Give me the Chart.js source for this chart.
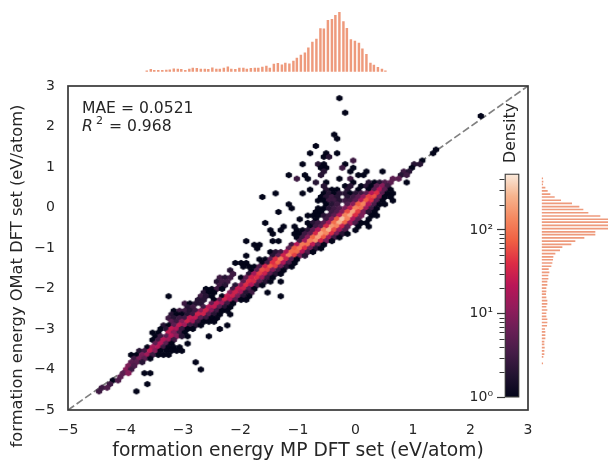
<!DOCTYPE html>
<html>
<head>
<meta charset="utf-8">
<title>formation energy parity</title>
<script src="https://cdn.jsdelivr.net/npm/chart.js@4/dist/chart.umd.min.js"></script>
<style>
  html, body { margin: 0; background: #fff; overflow: hidden; }
  canvas { position: absolute; }
</style>
</head>
<body>
<canvas id="top-hist" width="608" height="86" style="left:0;top:0"></canvas>
<canvas id="right-hist" width="80" height="462" style="left:528px;top:0"></canvas>
<canvas id="main" width="608" height="462" style="left:0;top:0"></canvas>
<canvas id="colorbar" width="90" height="270" style="left:440px;top:140px"></canvas>
<script>
// top marginal histogram
const topBins = [-3.63,-3.56,-3.50,-3.43,-3.36,-3.29,-3.23,-3.16,-3.09,-3.03,
  -2.96,-2.89,-2.83,-2.76,-2.69,-2.62,-2.56,-2.49,-2.42,-2.36,
  -2.29,-2.22,-2.16,-2.09,-2.02,-1.95,-1.89,-1.82,-1.75,-1.69,
  -1.62,-1.55,-1.49,-1.42,-1.35,-1.28,-1.22,-1.15,-1.08,-1.02,
  -0.95,-0.88,-0.82,-0.75,-0.68,-0.61,-0.55,-0.48,-0.41,-0.35,
  -0.28,-0.21,-0.15,-0.08,-0.01,0.06,0.12,0.19,0.26,0.32,
  0.39,0.46,0.52];
const topCounts = [3,7,4,4,4,5,6,9,8,7,
  4,8,11,10,8,8,7,12,8,8,
  11,15,8,7,11,11,8,10,11,11,
  14,17,11,23,25,21,26,24,32,41,
  50,57,72,89,98,130,129,155,158,170,
  180,151,131,97,92,86,69,52,26,20,
  13,8,3];

// right marginal histogram
const rightBins = [0.72,0.64,0.57,0.49,0.41,0.33,0.26,0.18,0.10,0.02,
  -0.05,-0.13,-0.21,-0.29,-0.36,-0.44,-0.52,-0.60,-0.67,-0.75,
  -0.83,-0.91,-0.98,-1.06,-1.14,-1.22,-1.29,-1.37,-1.45,-1.52,
  -1.60,-1.68,-1.76,-1.83,-1.91,-1.99,-2.07,-2.14,-2.22,-2.30,
  -2.38,-2.45,-2.53,-2.61,-2.69,-2.76,-2.84,-2.92,-3.00,-3.07,
  -3.15,-3.23,-3.31,-3.38,-3.46,-3.54,-3.62,-3.69,-3.85];
const rightCounts = [3,4,3,10,17,25,38,57,90,112,
  124,139,175,205,205,205,205,160,160,127,
  100,88,61,54,40,34,33,31,28,20,
  22,19,19,16,16,13,13,12,13,16,
  16,13,16,13,13,16,16,15,9,10,
  10,10,7,7,8,7,7,4,3];

// hexbin cells, one entry per row of the hex grid
const hexY = [2.70,2.34,1.80,1.70,1.52,1.43,1.34,1.25,1.16,1.07,0.98,0.89,0.80,0.71,0.62,0.53,0.44,0.35,0.26,0.17,0.08,
  -0.02,-0.11,-0.20,-0.29,-0.38,-0.47,-0.56,-0.65,-0.74,-0.83,-0.92,-1.01,-1.10,-1.19,-1.28,-1.37,-1.46,-1.55,-1.64,-1.73,
  -1.83,-1.92,-2.01,-2.10,-2.19,-2.28,-2.37,-2.46,-2.55,-2.64,-2.73,-2.82,-2.91,-3.00,-3.09,-3.18,-3.27,-3.36,-3.45,-3.54,
  -3.64,-3.73,-3.82,-3.91,-4.00,-4.09,-4.18,-4.27,-4.36,-4.45,-4.54,2.26];
const hexX = [
  [-0.28],
  [-0.18],
  [-0.37],
  [-0.32],
  [-0.69],
  [1.40],
  [-0.79,-0.51,-0.32,1.35],
  [-0.55,-0.46],
  [-0.04,1.16],
  [-0.92,-0.65,-0.55,-0.18,1.02,1.12],
  [-0.60,-0.51,-0.23,-0.04,0.98],
  [-0.55,-0.09,0.19,0.47,0.84,0.93],
  [-1.16,-0.88,-0.60,0.05,0.14,0.79,0.89],
  [-1.02,-0.83,-0.28,-0.09,0.65,0.75],
  [-0.69,-0.51,-0.04,0.23,0.33,0.42,0.51,0.61,0.89],
  [-0.55,-0.18,-0.09,0.10,0.19,0.28,0.37,0.47,0.56],
  [-0.79,-0.51,-0.41,-0.32,-0.14,0.05,0.23,0.33,0.42,0.51,0.61],
  [-1.39,-0.92,-0.55,-0.46,-0.37,-0.28,-0.18,-0.09,0.00,0.10,0.19,0.28,0.37,0.47,0.56,0.65],
  [-1.62,-0.60,-0.51,-0.41,-0.32,-0.14,-0.04,0.05,0.14,0.23,0.33,0.42,0.51,0.61],
  [-0.65,-0.55,-0.46,-0.37,-0.28,-0.18,-0.09,0.00,0.10,0.19,0.28,0.37,0.47,0.65],
  [-1.16,-0.51,-0.41,-0.32,-0.14,-0.04,0.05,0.14,0.23,0.33,0.42,0.51],
  [-1.11,-0.65,-0.55,-0.46,-0.37,-0.28,-0.18,-0.09,0.00,0.10,0.19,0.28,0.37],
  [-1.34,-0.69,-0.60,-0.41,-0.32,-0.23,-0.14,-0.04,0.05,0.14,0.23,0.33],
  [-0.83,-0.74,-0.65,-0.55,-0.46,-0.37,-0.28,-0.18,-0.09,0.00,0.10,0.28,0.37],
  [-0.97,-0.69,-0.51,-0.41,-0.32,-0.23,-0.14,-0.04,0.05,0.23],
  [-1.57,-0.83,-0.74,-0.65,-0.55,-0.46,-0.37,-0.28,-0.18,-0.09,0.00,0.10,0.19],
  [-1.25,-1.06,-0.79,-0.69,-0.60,-0.51,-0.41,-0.32,-0.23,-0.14,0.05,0.23],
  [-1.48,-1.30,-1.02,-0.92,-0.83,-0.74,-0.65,-0.55,-0.46,-0.37,-0.28,-0.18,0.00],
  [-1.44,-1.06,-0.97,-0.88,-0.79,-0.69,-0.60,-0.51,-0.41,-0.32,-0.23,-0.14],
  [-1.02,-0.92,-0.83,-0.74,-0.65,-0.55,-0.46,-0.37,-0.28],
  [-1.90,-1.44,-1.34,-0.97,-0.88,-0.79,-0.69,-0.60,-0.51,-0.41],
  [-1.76,-1.67,-1.11,-1.02,-0.92,-0.83,-0.74,-0.65,-0.55],
  [-1.71,-1.16,-1.06,-0.97,-0.88,-0.79,-0.69,-0.60],
  [-1.48,-1.39,-1.30,-1.20,-1.11,-1.02,-0.92,-0.83,-0.74],
  [-1.90,-1.44,-1.34,-1.25,-1.16,-1.06,-0.97,-0.88],
  [-1.67,-1.57,-1.48,-1.39,-1.30,-1.20,-1.11,-1.02],
  [-2.09,-1.99,-1.90,-1.62,-1.53,-1.44,-1.34,-1.25,-1.16,-1.06],
  [-1.95,-1.85,-1.76,-1.67,-1.57,-1.48,-1.39,-1.30,-1.20,-1.11],
  [-2.18,-1.81,-1.71,-1.62,-1.53,-1.44,-1.34,-1.25],
  [-2.13,-1.85,-1.76,-1.67,-1.57,-1.48,-1.39,-1.30],
  [-2.36,-2.27,-2.18,-1.99,-1.90,-1.81,-1.71,-1.62,-1.53,-1.44],
  [-2.41,-2.32,-2.23,-1.95,-1.85,-1.76,-1.67,-1.57,-1.48,-1.30],
  [-2.36,-2.27,-2.09,-1.99,-1.90,-1.81,-1.71,-1.62],
  [-2.60,-2.50,-2.41,-2.32,-2.13,-2.04,-1.95,-1.85,-1.76],
  [-2.64,-2.55,-2.46,-2.18,-2.09,-1.99,-1.90,-1.81,-1.53],
  [-3.25,-2.69,-2.60,-2.50,-2.32,-2.23,-2.13,-2.04,-1.95,-1.85,-1.30],
  [-2.74,-2.64,-2.46,-2.36,-2.27,-2.18,-2.09,-1.99,-1.90],
  [-2.97,-2.88,-2.78,-2.69,-2.50,-2.41,-2.32,-2.23,-2.13],
  [-2.92,-2.83,-2.64,-2.55,-2.46,-2.36,-2.27,-2.18],
  [-3.16,-3.06,-2.97,-2.88,-2.78,-2.69,-2.60,-2.50,-2.41,-2.32,-2.23],
  [-3.20,-3.11,-3.02,-2.92,-2.83,-2.74,-2.64,-2.55,-2.46,-2.36,-2.18],
  [-3.25,-3.16,-3.06,-2.97,-2.88,-2.78,-2.69,-2.60,-2.50,-2.41],
  [-3.20,-3.11,-3.02,-2.92,-2.83,-2.74,-2.64,-2.55,-2.46],
  [-3.34,-3.25,-3.16,-3.06,-2.97,-2.88,-2.78,-2.69,-2.23],
  [-3.39,-3.29,-3.20,-3.11,-3.02,-2.92,-2.83,-2.36],
  [-3.53,-3.43,-3.25,-3.16,-3.06,-2.97],
  [-3.48,-3.39,-3.29,-3.20,-3.11,-3.02,-2.92,-2.55],
  [-3.53,-3.43,-3.34,-3.25,-3.16],
  [-3.48,-3.39,-3.29,-3.20,-2.92],
  [-3.62,-3.53,-3.43,-3.34,-3.25,-3.16,-3.06],
  [-3.76,-3.67,-3.57,-3.48,-3.39,-3.29,-3.20,-3.11,-3.02],
  [-3.90,-3.81,-3.71,-3.62,-3.53,-3.43,-3.34,-3.25],
  [-3.85,-3.76,-3.67,-3.57],
  [-3.90,-3.81,-3.71,-2.78],
  [-3.95,-3.85],
  [-3.99,-3.90,-2.69],
  [-4.04,-3.95,-3.67,-3.57],
  [-4.09],
  [-4.22,-4.13],
  [-4.27,-3.62],
  [-4.41,-4.32],
  [-4.46,-3.81],
  [2.18]
];
const hexCount = [
  [1],
  [1],
  [1],
  [1],
  [1],
  [1],
  [1,1,1,1],
  [1,2],
  [3,1],
  [1,2,1,1,2,2],
  [1,1,3,1,1],
  [2,1,1,1,3,2],
  [1,1,2,1,1,2,3],
  [3,1,1,3,5,5],
  [2,1,1,2,1,2,4,5,1],
  [2,1,2,1,2,1,5,10,3],
  [1,2,1,1,2,1,1,5,20,5,1],
  [1,1,1,2,1,2,2,1,2,3,5,20,40,5,1,1],
  [1,1,2,3,2,2,3,5,12,50,60,8,1,1],
  [1,1,3,3,2,3,3,5,20,70,40,5,1,1],
  [1,1,2,3,4,10,70,130,20,4,1,1],
  [1,1,1,2,3,4,8,25,130,100,15,3,1],
  [1,1,1,3,4,10,60,200,50,8,2,1],
  [1,1,1,2,3,5,20,130,220,40,8,1,1],
  [1,1,3,10,70,300,130,20,5,1],
  [1,1,2,3,5,15,90,250,80,15,4,1,1],
  [1,1,1,3,5,35,170,130,30,5,1,1],
  [1,1,1,1,2,5,20,120,250,60,15,4,1],
  [1,1,1,3,5,35,200,140,40,8,2,1],
  [1,3,10,80,200,70,15,3,1],
  [1,1,1,3,15,120,160,35,8,1],
  [1,1,3,20,110,100,25,5,1],
  [1,5,70,110,40,8,2,1],
  [1,2,3,18,90,90,20,4,1],
  [1,2,5,30,120,50,8,2],
  [1,1,5,40,110,30,5,1],
  [1,1,1,1,3,40,80,20,4,1],
  [1,1,1,4,30,70,50,8,2,1],
  [2,1,5,60,50,10,3,1],
  [3,2,15,50,30,5,2,1],
  [3,2,3,1,5,30,40,15,3,1],
  [2,3,3,5,40,35,5,2,1,1],
  [3,2,2,10,40,20,3,1],
  [1,1,3,1,3,25,30,5,1],
  [2,1,1,10,30,15,2,3,1],
  [1,3,2,1,1,25,30,8,2,1,1],
  [2,2,1,5,30,20,5,1,1],
  [3,1,2,2,5,25,15,3,1],
  [2,3,3,20,25,5,2,1],
  [1,3,3,2,3,10,30,10,3,1,1],
  [2,1,1,2,3,30,30,5,2,1,1],
  [3,2,3,3,25,25,5,3,1,1],
  [5,3,10,30,15,3,1,1,1],
  [2,1,5,25,15,3,2,1,1],
  [1,2,25,20,3,1,1,1],
  [1,1,25,10,3,1],
  [1,3,5,20,10,2,1,1],
  [1,3,20,15,3],
  [5,20,5,1,1],
  [1,15,20,3,1,1,1],
  [2,3,25,10,1,1,1,1,1],
  [1,1,8,15,3,1,1,1],
  [3,8,5,1],
  [5,5,2,1],
  [8,4],
  [10,3,1],
  [5,10,1,1],
  [5],
  [1,4],
  [3,1],
  [3,4],
  [3,1],
  [1]
];

// parity line and axis ticks
const parityX = [-5, 3];
const parityY = [-5, 3];
const colorbarMajor = [1, 10, 100];
const colorbarMinor = [2, 3, 4, 5, 6, 7, 8, 9, 20, 30, 40, 50, 60, 70, 80, 90, 200, 300, 400];
const colorbarMax = 470;

const TEXT_COLOR = '#262626';
const SPINE_COLOR = '#383838';
const HIST_COLOR = '#ee9a7c';
const FONT = '"DejaVu Sans"';

// rocket colormap stops
const rocket = [
  [0.0, [3, 5, 26]],
  [0.1, [34, 19, 49]],
  [0.2, [69, 28, 71]],
  [0.3, [105, 31, 85]],
  [0.4, [146, 28, 91]],
  [0.5, [185, 22, 87]],
  [0.6, [221, 44, 69]],
  [0.7, [240, 96, 67]],
  [0.8, [245, 136, 96]],
  [0.9, [246, 180, 142]],
  [1.0, [250, 235, 221]]
];

function rocketColor(t) {
  for (let i = 1; i < rocket.length; i++) {
    if (t <= rocket[i][0]) {
      const [t0, c0] = rocket[i - 1];
      const [t1, c1] = rocket[i];
      const f = (t - t0) / (t1 - t0);
      return `rgb(${c0.map((c, j) => Math.round(c + (c1[j] - c) * f)).join(',')})`;
    }
  }
  return 'rgb(250,235,221)';
}

// Chart.js has no hexagon point, so each density gets a small canvas used as pointStyle
const hexImages = {};
function hexImage(count) {
  if (hexImages[count]) return hexImages[count];
  const img = document.createElement('canvas');
  img.width = 10;
  img.height = 10;
  const c = img.getContext('2d');
  const w = 6.4, h = 6.4;
  c.fillStyle = rocketColor(Math.log(count) / Math.log(colorbarMax));
  c.beginPath();
  c.moveTo(5, 5 - h / 2);
  c.lineTo(5 + w / 2, 5 - h / 4);
  c.lineTo(5 + w / 2, 5 + h / 4);
  c.lineTo(5, 5 + h / 2);
  c.lineTo(5 - w / 2, 5 + h / 4);
  c.lineTo(5 - w / 2, 5 - h / 4);
  c.closePath();
  c.fill();
  hexImages[count] = img;
  return img;
}

const hexPoints = [];
hexY.forEach((y, row) => {
  hexX[row].forEach((x, i) => hexPoints.push({ x: x, y: y, count: hexCount[row][i] }));
});

function minusTick(value) {
  return String(value).replace('-', '\u2212');
}

// spines, y title, annotation and colorbar title
const mainDecor = {
  id: 'mainDecor',
  afterDraw(chart) {
    const { ctx, chartArea: a } = chart;
    ctx.save();
    ctx.strokeStyle = SPINE_COLOR;
    ctx.lineWidth = 1.7;
    ctx.strokeRect(a.left, a.top, a.right - a.left, a.bottom - a.top);

    ctx.fillStyle = TEXT_COLOR;
    ctx.textBaseline = 'alphabetic';
    ctx.font = `15.6px ${FONT}`;
    ctx.fillText('MAE = 0.0521', 82, 112.7);
    ctx.font = `italic 15.6px ${FONT}`;
    ctx.fillText('R', 82, 130.7);
    ctx.font = `11px ${FONT}`;
    ctx.fillText('2', 96, 124);
    ctx.font = `15.6px ${FONT}`;
    ctx.fillText(' = 0.968', 104, 130.7);

    ctx.textBaseline = 'middle';
    ctx.textAlign = 'center';
    ctx.font = `16.3px ${FONT}`;
    ctx.save();
    ctx.translate(18, 276);
    ctx.rotate(-Math.PI / 2);
    ctx.fillText('formation energy OMat DFT set (eV/atom)', 0, 0);
    ctx.restore();
    ctx.save();
    ctx.translate(511, 133);
    ctx.rotate(-Math.PI / 2);
    ctx.font = `15.8px ${FONT}`;
    ctx.fillText('Density', 0, 0);
    ctx.restore();
    ctx.restore();
  }
};

// Chart.js gives all ticks one length, so the shorter minor ticks are added here
const colorbarMinorTicks = {
  id: 'colorbarMinorTicks',
  afterDraw(chart) {
    const { ctx, chartArea: a, scales } = chart;
    ctx.save();
    ctx.strokeStyle = SPINE_COLOR;
    ctx.lineWidth = 1;
    colorbarMinor.forEach(v => {
      const y = Math.round(scales.y.getPixelForValue(v)) + 0.5;
      ctx.beginPath();
      ctx.moveTo(a.left - 5, y);
      ctx.lineTo(a.left, y);
      ctx.stroke();
    });
    ctx.restore();
  }
};

function renderTopHist() {
  new Chart(document.getElementById('top-hist'), {
    type: 'bar',
    data: {
      datasets: [{
        data: topBins.map((b, i) => ({ x: b, y: topCounts[i] })),
        backgroundColor: HIST_COLOR,
        barThickness: 1.8
      }]
    },
    options: {
      responsive: false,
      animation: false,
      layout: { padding: { left: 68, right: 80, top: 12, bottom: 14.3 } },
      plugins: { legend: { display: false }, tooltip: { enabled: false } },
      scales: {
        x: { type: 'linear', min: -5, max: 3, offset: false, display: false },
        y: { min: 0, max: 180, display: false }
      }
    }
  });
}

function renderRightHist() {
  new Chart(document.getElementById('right-hist'), {
    type: 'bar',
    data: {
      datasets: [{
        data: rightBins.map((b, i) => ({ x: rightCounts[i], y: b })),
        backgroundColor: HIST_COLOR,
        barThickness: 1
      }]
    },
    options: {
      indexAxis: 'y',
      responsive: false,
      animation: false,
      layout: { padding: { left: 13.7, right: 0, top: 86, bottom: 52 } },
      plugins: { legend: { display: false }, tooltip: { enabled: false } },
      scales: {
        x: { min: 0, max: 199, display: false },
        y: { type: 'linear', min: -5, max: 3, offset: false, display: false }
      }
    }
  });
}

function renderMain() {
  new Chart(document.getElementById('main'), {
    type: 'scatter',
    data: {
      datasets: [
        {
          data: hexPoints,
          pointStyle: ctx => hexImage(ctx.raw ? ctx.raw.count : 1),
          pointRadius: 3
        },
        {
          data: parityX.map((x, i) => ({ x: x, y: parityY[i] })),
          showLine: true,
          pointRadius: 0,
          borderColor: '#808080',
          borderWidth: 1.7,
          borderDash: [7.5, 3]
        }
      ]
    },
    options: {
      responsive: false,
      animation: false,
      layout: { padding: { left: 0, right: 80, top: 86, bottom: 0 } },
      plugins: { legend: { display: false }, tooltip: { enabled: false } },
      scales: {
        x: {
          type: 'linear',
          min: -5,
          max: 3,
          afterFit: s => { s.height = 52; },
          grid: { display: false, drawTicks: false },
          border: { display: false },
          ticks: {
            stepSize: 1,
            padding: 12,
            maxRotation: 0,
            color: TEXT_COLOR,
            font: { family: FONT, size: 14 },
            callback: minusTick
          },
          title: {
            display: true,
            text: 'formation energy MP DFT set (eV/atom)',
            color: TEXT_COLOR,
            font: { family: FONT, size: 18.7 },
            padding: { top: 0, bottom: 0 }
          }
        },
        y: {
          type: 'linear',
          min: -5,
          max: 3,
          afterFit: s => { s.width = 68; },
          grid: { display: false, drawTicks: false },
          border: { display: false },
          ticks: {
            stepSize: 1,
            padding: 13,
            color: TEXT_COLOR,
            font: { family: FONT, size: 14 },
            callback: minusTick
          }
        }
      }
    },
    plugins: [mainDecor]
  });
}

function renderColorbar() {
  const superscript = { 1: '10\u2070', 10: '10\u00b9', 100: '10\u00b2' };
  new Chart(document.getElementById('colorbar'), {
    type: 'bar',
    data: {
      labels: ['Density'],
      datasets: [{
        data: [[1, colorbarMax]],
        backgroundColor: ctx => {
          const a = ctx.chart.chartArea;
          if (!a) return rocketColor(0.5);
          const g = ctx.chart.ctx.createLinearGradient(0, a.bottom, 0, a.top);
          rocket.forEach(([t]) => g.addColorStop(t, rocketColor(t === 0 ? 0 : t - 1e-6)));
          return g;
        },
        borderColor: SPINE_COLOR,
        borderWidth: 1.6,
        borderSkipped: false,
        barPercentage: 1,
        categoryPercentage: 1
      }]
    },
    options: {
      responsive: false,
      animation: false,
      layout: { padding: { left: 0, right: 10.5, top: 33.5, bottom: 10 } },
      plugins: { legend: { display: false }, tooltip: { enabled: false } },
      scales: {
        x: { display: false },
        y: {
          type: 'logarithmic',
          min: 1,
          max: colorbarMax,
          afterBuildTicks: s => { s.ticks = colorbarMajor.map(v => ({ value: v, major: true })); },
          afterFit: s => { s.width = 64.5; },
          grid: { drawOnChartArea: false, tickLength: 7.5, tickColor: SPINE_COLOR, tickWidth: 1.2 },
          border: { display: false },
          ticks: {
            padding: 4,
            autoSkip: false,
            maxRotation: 0,
            color: TEXT_COLOR,
            font: { family: FONT, size: 14 },
            callback: v => superscript[v] || ''
          }
        }
      }
    },
    plugins: [colorbarMinorTicks]
  });
}

renderTopHist();
renderRightHist();
renderMain();
renderColorbar();
</script>
</body>
</html>
